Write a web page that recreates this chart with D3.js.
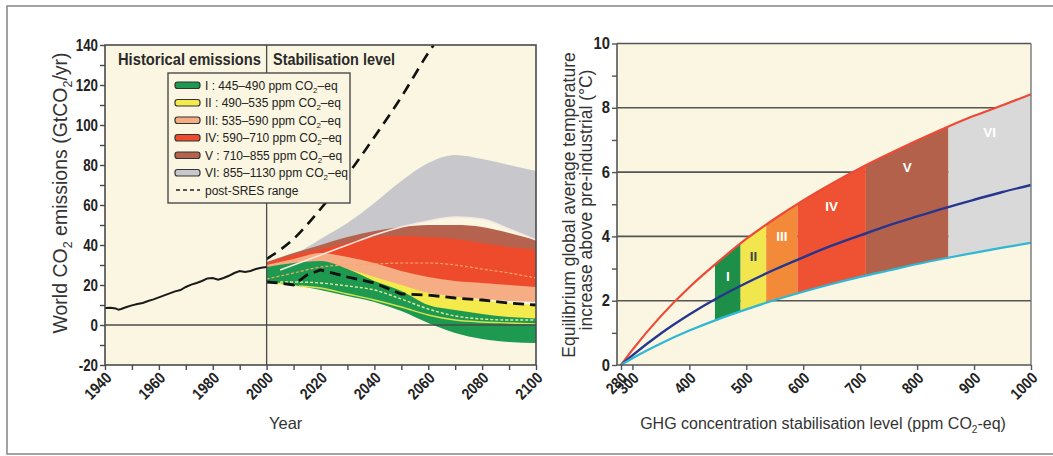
<!DOCTYPE html>
<html><head><meta charset="utf-8">
<script src="https://cdn.jsdelivr.net/npm/d3@7/dist/d3.min.js"></script>
<style>
body{margin:0;background:#fff;}
svg{display:block;}
text{font-family:"Liberation Sans",Arial,Helvetica,sans-serif;}
</style></head><body>
<svg id="c" width="1053" height="456"></svg>
<script>
// ---------------- DATA ----------------
// Left panel: historical emissions (GtCO2/yr)
const histYears  = [1940,1942,1944,1945,1946,1948,1950,1952,1954,1956,1958,1960,1962,1964,1966,1968,1970,1972,1974,1976,1978,1980,1982,1984,1986,1988,1990,1992,1994,1996,1998,2000];
const histValues = [8.5,8.6,8.3,7.6,8.0,9.0,9.8,10.5,11.0,12.0,12.8,13.8,14.8,15.8,16.8,17.5,19.0,20.2,21.0,22.0,23.3,23.5,22.6,23.5,24.6,26.0,27.0,26.5,27.0,28.0,28.6,29.0];

// Stabilisation category emission ranges, 2000-2100 (every 10 years)
const projYears = [2000,2010,2020,2030,2040,2050,2060,2070,2080,2090,2100];
const bandVI_lo  = [26,30,35,40,45,49,52,54,53,48,42.5];
const bandVI_hi  = [30,35,43,51,61,72,81,85,83,80,77];
const bandV_lo   = [25,27,29,31,32,33,33,33,33,32,30];
const bandV_hi   = [31.5,36,40,44,47,49,50,50,49,46,42.5];
const bandIV_lo  = [23,24,24,24,23,22,21,20,19,18,17];
const bandIV_hi  = [31,35,38,41,44,44.5,44,43,41,39,37.5];
const bandIII_lo = [22,23,23,22,20,18,16,14,13,12,11.5];
const bandIII_hi = [30,33,36,34,31,27,24,22,21,20,19];
const bandII_lo  = [21,19.5,18,15,12,9,7,5,4,3.5,3];
const bandII_hi  = [28,30,31,28,24,20,16,14,12.5,11,10];
const bandI_lo   = [22,20,17.5,14.5,11.5,7,1,-4,-7,-8.5,-9];
const bandI_hi   = [29,31,32,28,22,17,10,7.5,5.5,4,3.3];

// post-SRES range (upper and lower bounds)
const sresUpYears  = [2000,2010,2020,2030,2040,2050,2060,2062];
const sresUpValues = [33,43,58,75,94,114,136,140];
const sresLoYears  = [2000,2005,2010,2015,2020,2030,2040,2050,2060,2070,2080,2090,2100];
const sresLoValues = [21.5,21,20,25,27.5,24,21,15.5,15,13.5,12.5,11,10];

// thin median lines inside the bands
const medIVYears   = [2000,2010,2020,2030,2040,2050,2060,2070,2080,2090,2100];
const medIVValues  = [23,26,29,30,30.5,31,31,30,28,26,23.5];
const medIIYears   = [2005,2010,2020,2030,2040,2050,2060,2070,2080,2090,2100];
const medIIValues  = [21.5,21.5,21,19.5,17.5,13,8,4.5,3,2.5,2.5];
const medIYears    = [2012,2020,2030,2040,2050,2060,2070,2080,2090,2100];
const medIValues   = [19.5,18.5,15.5,12.5,9,5,2.5,1.5,1,0.5];
const edgeVIYears  = [2005,2010,2020,2030,2040,2050,2060,2070,2080,2090,2100];
const edgeVIValues = [27.5,30,35,40,45,49,52,54,53,48,42.5];

const categories   = ["I","II","III","IV","V","VI"];
const legendRanges = ["445–490","490–535","535–590","590–710","710–855","855–1130"];
const legendPrefix = ["I  : ","II : ","III: ","IV: ","V  : ","VI: "];

const yTicksL = [-20,0,20,40,60,80,100,120,140];
const xTicksL = [1940,1960,1980,2000,2020,2040,2060,2080,2100];

// Right panel: equilibrium warming vs concentration
const conc     = [280,300,350,400,450,500,550,600,650,700,750,800,850,900,950,1000];
const tempHigh = [0,0.47,1.52,2.42,3.2,3.92,4.55,5.12,5.64,6.12,6.56,6.98,7.38,7.75,8.08,8.42];
const tempBest = [0,0.30,0.98,1.57,2.09,2.55,2.97,3.35,3.71,4.03,4.34,4.62,4.89,5.14,5.38,5.6];
const tempLow  = [0,0.21,0.67,1.07,1.42,1.73,2.02,2.28,2.52,2.74,2.94,3.14,3.32,3.49,3.65,3.8];
const catLower = [445,490,535,590,710,855];
const catUpper = [490,535,590,710,855,1000];
const xTicksR  = [280,300,400,500,600,700,800,900,1000];
const yTicksR  = [0,2,4,6,8,10];

// ---------------- STYLE ----------------
const cream = "#faf6e1";
const frameC = "#4a4a4a";
const leftCols  = {VI:"#c8c8cc", V:"#b5634f", IV:"#ee4b2d", III:"#f6ad84", II:"#f4ea4c", I:"#1d9a4f"};
const rightCols = {I:"#1e8f48", II:"#f2e64e", III:"#f28a3a", IV:"#ee5232", V:"#b4614b", VI:"#d9d9da"};
const labelCols = {I:"#fff", II:"#444", III:"#fff", IV:"#fff", V:"#fff", VI:"#fff"};

// condense bold labels to mimic a narrow typeface
function condense(sel, perChar){
  sel.each(function(){
    const t = this.textContent;
    if(!t) return;
    const n = [...t].reduce((s,ch)=> s + (ch==="-"?0.6:1), 0);
    d3.select(this).attr("textLength", n*perChar).attr("lengthAdjust","spacingAndGlyphs");
  });
}

const svg = d3.select("#c");

// outer frame
svg.append("rect").attr("x",7).attr("y",6).attr("width",1070).attr("height",448)
  .attr("fill","none").attr("stroke","#8c8c8c").attr("stroke-width",1.6);

// ================= LEFT PANEL =================
const xL = d3.scaleLinear().domain([1940,2100]).range([105,536]);
const yL = d3.scaleLinear().domain([-20,140]).range([365,45]);

const gL = svg.append("g");
svg.append("clipPath").attr("id","clipL").append("rect")
  .attr("x",xL(1940)).attr("y",yL(140)).attr("width",xL(2100)-xL(1940)).attr("height",yL(-20)-yL(140));

gL.append("rect").attr("x",xL(1940)).attr("y",yL(140)).attr("width",xL(2100)-xL(1940)).attr("height",yL(-20)-yL(140)).attr("fill",cream);

const bandData = {
  VI:[bandVI_lo,bandVI_hi], V:[bandV_lo,bandV_hi], IV:[bandIV_lo,bandIV_hi],
  III:[bandIII_lo,bandIII_hi], II:[bandII_lo,bandII_hi], I:[bandI_lo,bandI_hi]
};
const areaL = d3.area().x(d=>xL(d.y)).y0(d=>yL(d.lo)).y1(d=>yL(d.hi)).curve(d3.curveMonotoneX);
const gBands = gL.append("g").attr("clip-path","url(#clipL)");
["VI","V","IV","III","II","I"].forEach(c=>{
  const rows = projYears.map((y,i)=>({y:y, lo:bandData[c][0][i], hi:bandData[c][1][i]}));
  gBands.append("path").datum(rows).attr("d",areaL).attr("fill",leftCols[c]);
});
const lineL = d3.line().x(d=>xL(d[0])).y(d=>yL(d[1])).curve(d3.curveMonotoneX);
const zipL = (a,b)=>a.map((v,i)=>[v,b[i]]);
gBands.append("path").datum(zipL(edgeVIYears,edgeVIValues)).attr("d",lineL)
  .attr("fill","none").attr("stroke","#f8e8e2").attr("stroke-width",1.5);
gBands.append("path").datum(zipL(medIVYears,medIVValues)).attr("d",lineL)
  .attr("fill","none").attr("stroke","#f7a866").attr("stroke-width",1.2).attr("stroke-dasharray","3,2");
gBands.append("path").datum(zipL(medIIYears,medIIValues)).attr("d",lineL)
  .attr("fill","none").attr("stroke","#e6ea9c").attr("stroke-width",1.4).attr("stroke-dasharray","3,2");
gBands.append("path").datum(zipL(medIYears,medIValues)).attr("d",lineL)
  .attr("fill","none").attr("stroke","#d9e24c").attr("stroke-width",1.3);

// zero line and 2000 divider
gL.append("line").attr("x1",xL(1940)).attr("x2",xL(2100)).attr("y1",yL(0)).attr("y2",yL(0))
  .attr("stroke",frameC).attr("stroke-width",1.4);
gL.append("line").attr("x1",xL(2000)).attr("x2",xL(2000)).attr("y1",yL(140)).attr("y2",yL(-20))
  .attr("stroke",frameC).attr("stroke-width",1.3);

// post-SRES range
gBands.append("path").datum(zipL(sresUpYears,sresUpValues)).attr("d",lineL)
  .attr("fill","none").attr("stroke","#111").attr("stroke-width",2.6).attr("stroke-dasharray","11,7");
gBands.append("path").datum(zipL(sresLoYears,sresLoValues)).attr("d",d3.line().x(d=>xL(d[0])).y(d=>yL(d[1])))
  .attr("fill","none").attr("stroke","#111").attr("stroke-width",2.8).attr("stroke-dasharray","11,6");

// historical
gL.append("path").datum(zipL(histYears,histValues)).attr("d",d3.line().x(d=>xL(d[0])).y(d=>yL(d[1])))
  .attr("fill","none").attr("stroke","#1a1a1a").attr("stroke-width",2);

// frame
gL.append("rect").attr("x",xL(1940)).attr("y",yL(140)).attr("width",xL(2100)-xL(1940)).attr("height",yL(-20)-yL(140))
  .attr("fill","none").attr("stroke",frameC).attr("stroke-width",1.6);

// axes
const axYL = gL.append("g").attr("transform",`translate(${xL(1940)},0)`)
  .call(d3.axisLeft(yL).tickValues(d3.range(-20,141,10)).tickSize(5).tickFormat(d=> yTicksL.includes(d)? String(d) : ""));
const axXL = gL.append("g").attr("transform",`translate(0,${yL(-20)})`)
  .call(d3.axisBottom(xL).tickValues(d3.range(1940,2101,10)).tickSize(5).tickFormat(d=> xTicksL.includes(d)? String(d) : ""));
[axYL,axXL].forEach(a=>{a.select(".domain").remove(); a.selectAll("line").attr("stroke",frameC).attr("stroke-width",1.4);});
axYL.selectAll("text").attr("font-family","Liberation Sans").attr("font-size",16).attr("font-weight","bold").attr("fill","#222").attr("x",-7);
condense(axYL.selectAll("text"), 7.4);
axXL.selectAll("text").attr("font-family","Liberation Sans").attr("font-size",16).attr("font-weight","bold").attr("fill","#222")
  .attr("text-anchor","end").attr("dy",0).attr("y",0)
  .attr("transform","translate(7,14) rotate(-45)");
condense(axXL.selectAll("text"), 7.6);

// headers
gL.append("text").attr("x",118).attr("y",65).attr("font-size",16).attr("font-weight","bold").attr("fill","#2a2a2a")
  .attr("textLength",143).attr("lengthAdjust","spacingAndGlyphs").text("Historical emissions");
gL.append("text").attr("x",273).attr("y",65).attr("font-size",16).attr("font-weight","bold").attr("fill","#2a2a2a")
  .attr("textLength",122).attr("lengthAdjust","spacingAndGlyphs").text("Stabilisation level");

// axis titles
const ytL = gL.append("text").attr("transform","translate(67,193) rotate(-90)")
  .attr("text-anchor","middle").attr("font-size",19.5).attr("fill","#333");
ytL.append("tspan").text("World CO");
ytL.append("tspan").attr("font-size",12.5).attr("dy",5).text("2");
ytL.append("tspan").attr("dy",-5).text(" emissions (GtCO");
ytL.append("tspan").attr("font-size",12.5).attr("dy",5).text("2");
ytL.append("tspan").attr("dy",-5).text("/yr)");
gL.append("text").attr("x",269).attr("y",429).attr("font-size",16.5).attr("fill","#333").text("Year");

// legend
const lg = gL.append("g");
lg.append("rect").attr("x",168).attr("y",73).attr("width",182).attr("height",130)
  .attr("fill",cream).attr("stroke",frameC).attr("stroke-width",1.4);
categories.forEach((c,i)=>{
  const yy = 85 + i*17.5;
  lg.append("rect").attr("x",175).attr("y",yy-3).attr("width",25).attr("height",6.5).attr("rx",2.5)
    .attr("fill",leftCols[c]).attr("stroke","#333").attr("stroke-width",1.2);
  const t = lg.append("text").attr("x",205).attr("y",yy+4.5).attr("font-size",12).attr("fill","#222");
  t.append("tspan").text(legendPrefix[i]+legendRanges[i]+" ppm CO");
  t.append("tspan").attr("font-size",8).attr("dy",3).text("2");
  t.append("tspan").attr("dy",-3).text("–eq");
});
{
  const yy = 85 + 6*17.5;
  lg.append("line").attr("x1",176).attr("x2",200).attr("y1",yy).attr("y2",yy)
    .attr("stroke","#222").attr("stroke-width",1.6).attr("stroke-dasharray","4,3");
  lg.append("text").attr("x",205).attr("y",yy+4.5).attr("font-size",12).attr("fill","#222").text("post-SRES range");
}

// ================= RIGHT PANEL =================
const xR = d3.scaleLinear().domain([280,1000]).range([621,1031]);
const yR = d3.scaleLinear().domain([0,10]).range([365,43.5]);
const leftEdgeR = xR(280) - 4;
const gR = svg.append("g");
gR.append("rect").attr("x",leftEdgeR).attr("y",yR(10)).attr("width",xR(1000)-leftEdgeR).attr("height",yR(0)-yR(10)).attr("fill",cream);

// grid
[2,4,6,8].forEach(v=>{
  gR.append("line").attr("x1",leftEdgeR).attr("x2",xR(1000)).attr("y1",yR(v)).attr("y2",yR(v))
    .attr("stroke","#555").attr("stroke-width",1.6);
});

const tRows = conc.map((c,i)=>({c:c, lo:tempLow[i], hi:tempHigh[i], b:tempBest[i]}));
const areaR = d3.area().x(d=>xR(d.c)).y0(d=>yR(d.lo)).y1(d=>yR(d.hi)).curve(d3.curveMonotoneX);
svg.append("clipPath").attr("id","clipR").append("path").datum(tRows).attr("d",areaR);
const gCat = gR.append("g").attr("clip-path","url(#clipR)");
categories.forEach((c,i)=>{
  gCat.append("rect").attr("x",xR(catLower[i])).attr("width",xR(catUpper[i])-xR(catLower[i]))
    .attr("y",yR(10)).attr("height",yR(0)-yR(10)).attr("fill",rightCols[c]);
});
const lineR = key => d3.line().x(d=>xR(d.c)).y(d=>yR(d[key])).curve(d3.curveMonotoneX);
gR.append("path").datum(tRows).attr("d",lineR("hi")).attr("fill","none").attr("stroke","#ec4a36").attr("stroke-width",2.2);
gR.append("path").datum(tRows).attr("d",lineR("b")).attr("fill","none").attr("stroke","#26368f").attr("stroke-width",2.4);
gR.append("path").datum(tRows).attr("d",lineR("lo")).attr("fill","none").attr("stroke","#2fb7d4").attr("stroke-width",2.2);

// roman labels
const interp = (arr, c) => {
  for(let i=0;i<conc.length-1;i++){ if(c>=conc[i] && c<=conc[i+1]){ const t=(c-conc[i])/(conc[i+1]-conc[i]); return arr[i]+(arr[i+1]-arr[i])*t; } }
  return arr[arr.length-1];
};
categories.forEach((c,i)=>{
  const mid = (catLower[i]+catUpper[i])/2;
  gR.append("text").attr("x",xR(mid)).attr("y",yR(interp(tempHigh,mid))+27)
    .attr("text-anchor","middle").attr("font-size",13.5).attr("font-weight","bold").attr("fill",labelCols[c]).text(c);
});

// frame
gR.append("line").attr("x1",leftEdgeR).attr("x2",xR(1000)).attr("y1",yR(10)).attr("y2",yR(10)).attr("stroke","#555").attr("stroke-width",1.6);
gR.append("line").attr("x1",xR(1000)).attr("x2",xR(1000)).attr("y1",yR(10)).attr("y2",yR(0)).attr("stroke","#777").attr("stroke-width",1.4);
gR.append("line").attr("x1",leftEdgeR).attr("x2",leftEdgeR).attr("y1",yR(10)).attr("y2",yR(0)).attr("stroke","#555").attr("stroke-width",1.6);
gR.append("line").attr("x1",leftEdgeR).attr("x2",xR(1000)).attr("y1",yR(0)).attr("y2",yR(0)).attr("stroke","#555").attr("stroke-width",1.6);

const axYR = gR.append("g").attr("transform",`translate(${leftEdgeR},0)`)
  .call(d3.axisLeft(yR).tickValues(d3.range(0,11,1)).tickSize(5).tickFormat(d=> yTicksR.includes(d)? String(d) : ""));
const axXR = gR.append("g").attr("transform",`translate(0,${yR(0)})`)
  .call(d3.axisBottom(xR).tickValues(xTicksR).tickSize(5).tickFormat(d=>String(d)));
[axYR,axXR].forEach(a=>{a.select(".domain").remove(); a.selectAll("line").attr("stroke","#555").attr("stroke-width",1.4);});
axYR.selectAll("text").attr("font-family","Liberation Sans").attr("font-size",16).attr("font-weight","bold").attr("fill","#222").attr("x",-7);
condense(axYR.selectAll("text"), 8.2);
axXR.selectAll("text").attr("font-family","Liberation Sans").attr("font-size",16).attr("font-weight","bold").attr("fill","#222")
  .attr("text-anchor","end").attr("dy",0).attr("y",0)
  .attr("transform","translate(7,14) rotate(-45)");
condense(axXR.selectAll("text"), 7.6);

// titles
gR.append("text").attr("transform","translate(575,205) rotate(-90)").attr("text-anchor","middle")
  .attr("font-size",17.5).attr("fill","#333").text("Equilibrium global average temperature");
gR.append("text").attr("transform","translate(592,200) rotate(-90)").attr("text-anchor","middle")
  .attr("font-size",17.5).attr("fill","#333").text("increase above pre-industrial (°C)");
const xtR = gR.append("text").attr("x",823).attr("y",429).attr("text-anchor","middle")
  .attr("font-size",16).attr("fill","#333");
xtR.append("tspan").text("GHG concentration stabilisation level (ppm CO");
xtR.append("tspan").attr("font-size",10).attr("dy",4).text("2");
xtR.append("tspan").attr("dy",-4).text("-eq)");
</script>
</body></html>
